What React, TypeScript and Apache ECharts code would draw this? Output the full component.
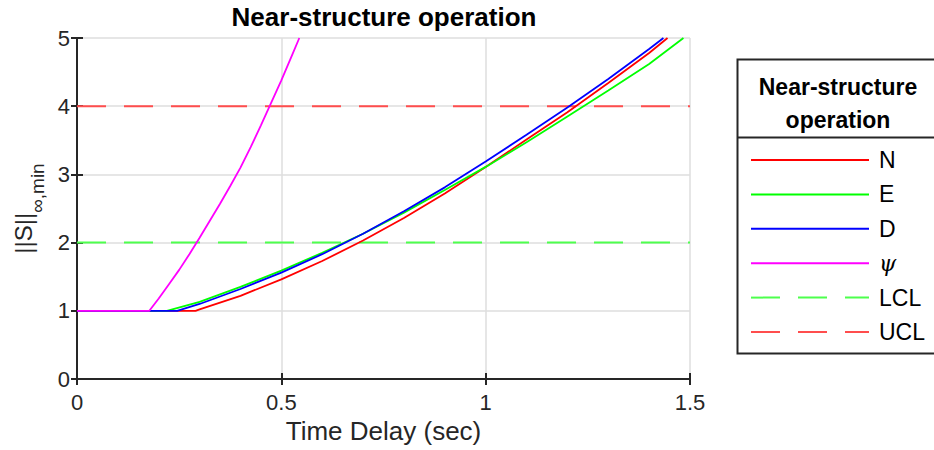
import React, { useEffect, useRef } from 'react';
import * as echarts from 'echarts';

const chartTitle = 'Near-structure operation';
const legendTitle = 'Near-structure\noperation';
const xAxisName = 'Time Delay (sec)';
const yAxisMain = '||S||';
const yAxisSub = '∞,min';
const xTicks = { min: 0, max: 1.5, interval: 0.5 };
const yTicks = { min: 0, max: 5, interval: 1 };

const seriesNames = ['N', 'E', 'D', 'ψ', 'LCL', 'UCL'];
const seriesColors = ['#ff0000', '#00ff00', '#0000ff', '#ff00ff', '#4dff4d', '#ff4d4d'];

const nData = [[0, 1], [0.29, 1], [0.3, 1.02], [0.4, 1.22], [0.5, 1.46], [0.6, 1.73], [0.7, 2.03], [0.8, 2.36], [0.9, 2.72], [1.0, 3.11], [1.1, 3.51], [1.2, 3.91], [1.3, 4.34], [1.4, 4.78], [1.445, 5]];
const eData = [[0, 1], [0.22, 1], [0.3, 1.13], [0.4, 1.35], [0.5, 1.59], [0.6, 1.85], [0.7, 2.13], [0.8, 2.44], [0.9, 2.77], [1.0, 3.11], [1.1, 3.47], [1.2, 3.85], [1.3, 4.23], [1.4, 4.62], [1.484, 5]];
const dData = [[0, 1], [0.245, 1], [0.3, 1.1], [0.4, 1.32], [0.5, 1.56], [0.6, 1.83], [0.7, 2.13], [0.8, 2.46], [0.9, 2.81], [1.0, 3.19], [1.1, 3.58], [1.2, 3.98], [1.3, 4.4], [1.4, 4.84], [1.435, 5]];
const psiData = [[0, 1], [0.177, 1], [0.2, 1.18], [0.225, 1.39], [0.25, 1.6], [0.275, 1.83], [0.3, 2.07], [0.325, 2.32], [0.35, 2.57], [0.375, 2.83], [0.4, 3.1], [0.425, 3.4], [0.45, 3.72], [0.475, 4.05], [0.5, 4.38], [0.525, 4.73], [0.544, 5]];
const lclData = [[0, 2], [1.5, 2]];
const uclData = [[0, 4], [1.5, 4]];

const FONT = '"Liberation Sans", Arial, Helvetica, sans-serif';
const AXIS_COLOR = '#262626';

export default function App() {
  const ref = useRef<HTMLDivElement>(null);
  useEffect(() => {
    if (!ref.current) return;
    const chart = echarts.init(ref.current, undefined, { renderer: 'svg' });
    const dataSets = [nData, eData, dData, psiData, lclData, uclData];
    const series = seriesNames.map((name, i) => ({
      name,
      type: 'line',
      data: dataSets[i],
      symbol: 'none',
      z: i >= 4 ? 2 : 3,
      lineStyle: {
        color: seriesColors[i],
        width: i >= 4 ? 2 : 1.8,
        type: i >= 4 ? [29, 18] : 'solid',
      },
      itemStyle: { color: seriesColors[i] },
    }));
    const commonAxisLine = { show: true, lineStyle: { color: AXIS_COLOR, width: 2 } };
    const commonTick = { show: true, inside: true, length: 6, lineStyle: { color: AXIS_COLOR, width: 2 } };
    chart.setOption({
      animation: false,
      backgroundColor: '#ffffff',
      grid: { left: 77, top: 38, right: 244, bottom: 71, containLabel: false },
      xAxis: [
        {
          type: 'value', ...xTicks, position: 'bottom',
          name: xAxisName, nameLocation: 'middle', nameGap: 36,
          nameTextStyle: { fontFamily: FONT, fontSize: 26, color: AXIS_COLOR },
          axisLine: commonAxisLine, axisTick: commonTick,
          axisLabel: { fontFamily: FONT, fontSize: 22, color: AXIS_COLOR, margin: 12 },
          splitLine: { show: true, lineStyle: { color: '#dedede', width: 1.5 } },
        },
        {
          type: 'value', ...xTicks, position: 'top',
          axisLine: commonAxisLine, axisTick: commonTick,
          axisLabel: { show: false }, splitLine: { show: false },
        },
      ],
      yAxis: [
        {
          type: 'value', ...yTicks, position: 'left',
          name: `{a|${yAxisMain}}{b|${yAxisSub}}`, nameLocation: 'middle', nameGap: 20, nameRotate: 90,
          nameTextStyle: {
            fontFamily: FONT, color: AXIS_COLOR,
            rich: {
              a: { fontFamily: FONT, fontSize: 24, color: AXIS_COLOR, lineHeight: 46, verticalAlign: 'middle' },
              b: { fontFamily: FONT, fontSize: 19, color: AXIS_COLOR, lineHeight: 8, verticalAlign: 'bottom' },
            },
          },
          axisLine: commonAxisLine, axisTick: commonTick,
          axisLabel: { fontFamily: FONT, fontSize: 22, color: AXIS_COLOR, margin: 7 },
          splitLine: { show: true, lineStyle: { color: '#dedede', width: 1.5 } },
        },
        {
          type: 'value', ...yTicks, position: 'right',
          axisLine: commonAxisLine, axisTick: commonTick,
          axisLabel: { show: false }, splitLine: { show: false },
        },
      ],
      legend: {
        orient: 'vertical',
        left: 750,
        top: 148,
        padding: 0,
        itemWidth: 118,
        itemHeight: 24,
        itemGap: 10.4,
        data: seriesNames,
        itemStyle: { opacity: 0 },
        formatter: (name: string) => (name === 'ψ' ? '{i|ψ}' : name),
        textStyle: {
          fontFamily: FONT, fontSize: 23, color: '#000000', lineHeight: 24, padding: [0, 0, 0, 5],
          rich: { i: { fontFamily: '"DejaVu Serif", serif', fontStyle: 'italic', fontSize: 22, lineHeight: 24 } },
        },
        selectedMode: false,
      },
      graphic: [
        {
          type: 'text', x: 384, y: 4, z: 10,
          style: { text: chartTitle, fontFamily: FONT, fontWeight: 'bold', fontSize: 26, fill: '#000', textAlign: 'center', textVerticalAlign: 'top' },
        },
        {
          type: 'rect', x: 737.5, y: 59.5, z: 1,
          shape: { x: 0, y: 0, width: 210, height: 294 },
          style: { fill: '#ffffff', stroke: AXIS_COLOR, lineWidth: 2 },
        },
        {
          type: 'line', z: 2,
          shape: { x1: 737.5, y1: 137.5, x2: 940, y2: 137.5 },
          style: { stroke: AXIS_COLOR, lineWidth: 2 },
        },
        {
          type: 'text', x: 838, y: 70, z: 10,
          style: { text: legendTitle, fontFamily: FONT, fontWeight: 'bold', fontSize: 23, lineHeight: 33, fill: '#000', textAlign: 'center', textVerticalAlign: 'top' },
        },
      ],
      series,
    });
    return () => chart.dispose();
  }, []);
  return <div ref={ref} style={{ position: 'fixed', left: 0, top: 0, width: 934, height: 450 }} />;
}
